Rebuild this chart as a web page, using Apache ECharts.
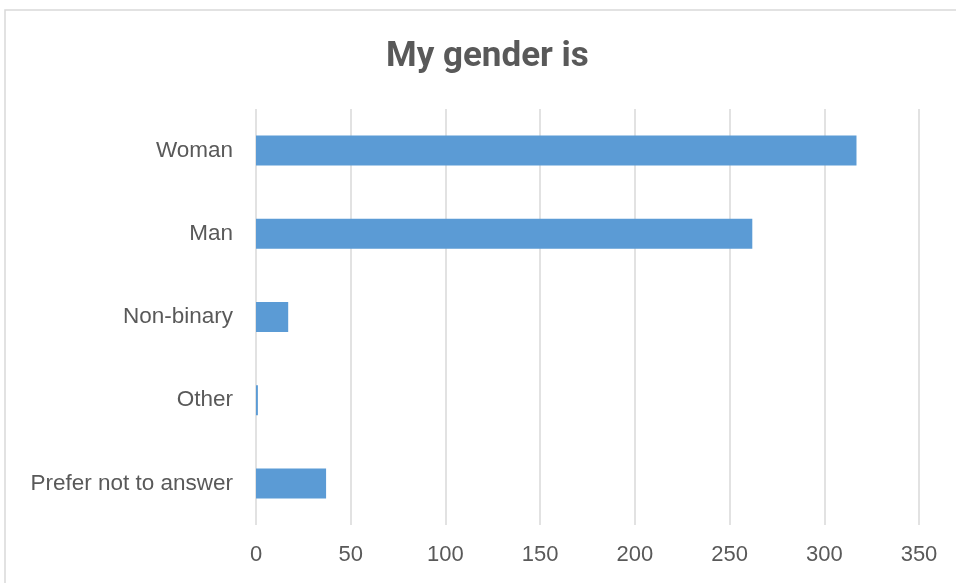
<!DOCTYPE html>
<html>
<head>
<meta charset="utf-8">
<script src="https://cdn.jsdelivr.net/npm/echarts@6/dist/echarts.min.js"></script>
<style>
  html, body { margin: 0; padding: 0; background: #fff; }
  #chart { width: 956px; height: 583px; }
</style>
</head>
<body>
<div id="chart"></div>
<script>
// categories top to bottom as shown
const categories = ['Woman', 'Man', 'Non-binary', 'Other', 'Prefer not to answer']
const counts = [317, 262, 17, 1, 37]
const xTicks = { min: 0, max: 350, step: 50 }

const chart = echarts.init(document.getElementById('chart'))

chart.setOption({
  animation: false,
  title: {
    text: 'My gender is',
    left: 386,
    top: 40,
    padding: 0,
    textStyle: {
      fontFamily: 'Roboto, sans-serif',
      fontSize: 35,
      fontWeight: 'bold',
      color: '#595959'
    }
  },
  graphic: [{
    type: 'rect',
    shape: { x: 5, y: 10, width: 980, height: 620 },
    style: { fill: 'none', stroke: '#d9d9d9', lineWidth: 1.5 },
    silent: true
  }],
  grid: { left: 256, right: 37, top: 109, bottom: 58 },
  xAxis: {
    type: 'value',
    min: xTicks.min,
    max: xTicks.max,
    interval: xTicks.step,
    axisLine: { show: false },
    axisTick: { show: false },
    axisLabel: {
      margin: 19,
      fontFamily: 'Liberation Sans, sans-serif',
      fontSize: 22,
      color: '#595959'
    },
    splitLine: { lineStyle: { color: '#d9d9d9', width: 1.5 } }
  },
  yAxis: {
    type: 'category',
    data: categories,
    inverse: true,
    axisLine: { show: false },
    axisTick: { show: false },
    axisLabel: {
      margin: 23,
      fontFamily: 'Liberation Sans, sans-serif',
      fontSize: 22.5,
      color: '#595959'
    }
  },
  series: [{
    type: 'bar',
    data: counts,
    barWidth: 30,
    itemStyle: { color: '#5b9bd5' }
  }]
})
</script>
</body>
</html>
